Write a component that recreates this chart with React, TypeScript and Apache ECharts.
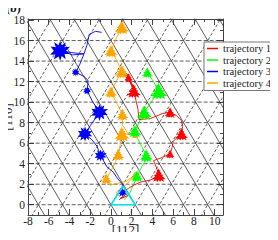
import React, { useEffect, useRef } from "react";
import * as echarts from "echarts";

const xMajor = [-8, -6, -4, -2, 0, 2, 4, 6, 8, 10];
const xMinor = [-7, -5, -3, -1, 1, 3, 5, 7, 9];
const yMajor = [0, 2, 4, 6, 8, 10, 12, 14, 16, 18];
const yMinor = [-1, 1, 3, 5, 7, 9, 11, 13, 15, 17];

const seriesNames = ["trajectory 1", "trajectory 2", "trajectory 3", "trajectory 4"];
const seriesColors = ["#ff0000", "#00ff00", "#0000ff", "#ffa500"];

const latticeRows = [0, 2, 4, 6, 8, 10, 12, 14, 16];
const latticeSpacing = 2.333;
const latticeIndex = [-9, -8, -7, -6, -5, -4, -3, -2, -1, 0, 1, 2, 3, 4, 5, 6, 7, 8, 9, 10];
const cyanTriangle = [[0, 0], [2.333, 0], [1.167, 1.8], [0, 0]];

// trajectory 1 (red)
const t1Path = [
  [1.0, 0.6], [1.6, 0.9], [1.2, 1.3], [1.7, 1.6], [2.2, 1.9], [2.8, 2.2], [3.8, 2.4], [4.6, 2.9],
  [4.4, 3.6], [4.1, 4.3], [4.9, 4.6], [5.7, 4.95], [5.9, 5.6], [6.0, 6.2], [6.8, 6.9], [6.9, 7.6],
  [6.8, 8.2], [6.3, 8.7], [5.7, 9.0], [5.0, 8.9], [3.8, 8.4], [2.7, 8.3], [2.6, 9.3], [2.4, 10.2],
  [2.2, 11.1], [1.9, 11.8], [1.6, 12.5], [1.3, 12.9], [1.9, 12.0], [2.3, 11.2], [1.5, 12.8], [2.1, 11.4],
];
const t1Blobs = [[4.6, 2.9, 14], [5.7, 4.95, 9], [6.8, 6.9, 13], [5.7, 9.0, 11], [2.2, 11.1, 14], [1.7, 12.4, 9]];

// trajectory 2 (green)
const t2Path = [
  [1.3, 0.5], [1.8, 1.1], [2.1, 1.8], [2.5, 2.7], [2.8, 3.4], [3.2, 4.1], [3.4, 4.8], [3.0, 5.6],
  [2.6, 6.4], [2.3, 7.2], [2.7, 8.0], [3.2, 9.0], [3.8, 9.9], [4.6, 11.1], [4.1, 12.0], [3.5, 12.9],
];
const t2Blobs = [[2.5, 2.8, 12], [3.4, 4.8, 13], [2.3, 7.2, 13], [3.2, 9.0, 15], [4.6, 11.1, 17], [3.5, 12.9, 11]];

// trajectory 3 (blue)
const t3Path = [
  [0.8, 0.5], [1.4, 1.0], [0.9, 1.4], [1.2, 1.9], [0.6, 2.6], [0.2, 3.2], [-0.4, 3.7], [-1.0, 4.8],
  [-1.35, 5.7], [-1.8, 6.3], [-2.5, 6.9], [-2.0, 7.7], [-1.1, 9.0], [-1.8, 10.1], [-2.3, 11.1],
  [-2.2, 12.1], [-2.6, 12.5], [-3.4, 12.9], [-3.0, 13.7], [-2.6, 14.7], [-3.7, 14.6], [-4.9, 15.0],
  [-3.6, 14.8], [-2.6, 14.7], [-2.3, 15.6], [-2.1, 16.6], [-1.5, 16.9], [-0.9, 16.8],
];
const t3Blobs = [[-1.0, 4.8, 12], [-2.5, 6.9, 15], [-1.1, 9.0, 17], [-2.3, 11.1, 8], [-3.4, 12.9, 8], [-4.9, 15.0, 20], [1.1, 1.2, 9]];

// trajectory 4 (orange)
const t4Path = [
  [1.6, 0.8], [0.9, 0.7], [0.5, 1.2], [1.5, 2.0], [2.3, 2.9], [1.5, 2.3], [-0.1, 1.9], [-0.45, 2.55],
  [0.0, 3.3], [0.4, 4.1], [0.7, 4.9], [0.9, 5.9], [1.05, 6.9], [1.7, 6.9], [2.3, 6.8], [1.6, 7.0],
  [1.1, 7.8], [1.1, 8.8], [0.6, 9.8], [0.0, 11.0], [0.5, 12.0], [1.05, 13.0], [0.6, 14.0], [0.0, 15.0],
  [0.5, 16.2], [1.05, 17.3],
];
const t4Blobs = [[-0.45, 2.55, 11], [0.7, 4.9, 12], [1.05, 6.9, 15], [1.1, 8.8, 12], [0.0, 11.0, 12], [1.05, 13.0, 14], [0.0, 15.0, 13], [1.05, 17.3, 14], [2.3, 6.8, 7], [2.3, 2.9, 7]];

const triBlob =
  "path://M50,0 L55,18 L62,12 L60,30 L72,32 L66,44 L84,50 L74,58 L100,80 L80,80 L90,100 L68,88 L60,98 L50,86 L40,100 L32,88 L10,98 L20,80 L0,82 L26,60 L14,50 L34,44 L28,32 L40,30 L38,12 L45,18 Z";
const roundBlob =
  "path://M50,0 L58,22 L78,8 L72,32 L100,30 L80,48 L98,66 L72,66 L78,92 L58,76 L50,100 L42,78 L18,94 L26,68 L0,70 L18,50 L2,28 L28,32 L20,6 L42,22 Z";

const serif = "Liberation Serif";

export default function App() {
  const ref = useRef<HTMLDivElement>(null);
  useEffect(() => {
    const chart = echarts.init(ref.current!, undefined, { renderer: "svg" });
    const frameColor = "#444";
    const tickStyle = { color: frameColor, width: 1 };
    const lblStyle = { fontFamily: serif, fontSize: 11.5, color: "#222", lineHeight: 11 };

    const latticeSeries: any[] = [];
    latticeRows.forEach((r) => {
      latticeSeries.push({
        type: "line", silent: true, symbol: "none", z: 1,
        data: [[-9, r], [12, r]],
        lineStyle: { color: "#333", width: 0.8, type: [4, 2] },
      });
    });
    latticeIndex.forEach((k) => {
      const x0 = k * latticeSpacing;
      latticeSeries.push({
        type: "line", silent: true, symbol: "none", z: 1,
        data: [[x0 - 2 * latticeSpacing / 4, -2], [x0 + 20 * latticeSpacing / 4, 20]],
        lineStyle: { color: "#333", width: 0.8, type: [3, 2] },
      });
      latticeSeries.push({
        type: "line", silent: true, symbol: "none", z: 1,
        data: [[x0 + 2 * latticeSpacing / 4, -2], [x0 - 20 * latticeSpacing / 4, 20]],
        lineStyle: { color: "#333", width: 0.8 },
      });
    });

    const traj = (i: number, path: number[][], blobs: number[][], shape: string) => [
      {
        name: seriesNames[i], type: "line", symbol: "none", z: 3, data: path,
        lineStyle: { color: seriesColors[i], width: 0.9 }, itemStyle: { color: seriesColors[i] },
      },
      {
        name: seriesNames[i], type: "scatter", z: 3, data: blobs, symbol: shape,
        symbolSize: (v: number[]) => v[2],
        itemStyle: { color: seriesColors[i], opacity: 1 },
      },
    ];

    const mkX = (pos: string, vals: number[], len: number, labels: boolean, line: boolean, name?: string) => ({
      type: "value", min: -8, max: 10.8, position: pos,
      axisLine: { show: line, onZero: false, lineStyle: { color: frameColor, width: 1 } },
      axisTick: { show: true, inside: true, length: len, customValues: vals, lineStyle: tickStyle },
      axisLabel: labels ? { show: true, customValues: vals, margin: 1, ...lblStyle, lineHeight: 10 } : { show: false },
      splitLine: { show: false },
      name: name, nameLocation: "middle", nameGap: 9, nameMoveOverlap: false,
      nameTextStyle: { ...lblStyle, fontSize: 13, lineHeight: 11 },
    });
    const mkY = (pos: string, vals: number[], len: number, labels: boolean, line: boolean, name?: string) => ({
      type: "value", min: -1, max: 18.1, position: pos,
      axisLine: { show: line, onZero: false, lineStyle: { color: frameColor, width: 1 } },
      axisTick: { show: true, inside: true, length: len, customValues: vals, lineStyle: tickStyle },
      axisLabel: labels ? { show: true, customValues: vals, margin: 3, ...lblStyle } : { show: false },
      splitLine: { show: false },
      name: name, nameLocation: "middle", nameGap: 15, nameMoveOverlap: false,
      nameTextStyle: { ...lblStyle, fontSize: 13, lineHeight: 12 },
    });

    chart.setOption({
      animation: false,
      grid: { left: 28, right: 55, top: 19, bottom: 25, containLabel: false, outerBoundsMode: "none" },
      title: {
        text: "(b)", left: 6, top: 2, padding: 0,
        textStyle: { fontFamily: serif, fontSize: 12, fontWeight: "bold", color: "#111", lineHeight: 12 },
      },
      xAxis: [
        mkX("bottom", xMajor, 6, true, true, "[112\u0305]"),
        mkX("bottom", xMinor, 3, false, false),
        mkX("top", xMajor, 6, false, true),
        mkX("top", xMinor, 3, false, false),
      ],
      yAxis: [
        mkY("left", yMajor, 6, true, true, "[11\u03050]"),
        mkY("left", yMinor, 3, false, false),
        mkY("right", yMajor, 6, false, true),
        mkY("right", yMinor, 3, false, false),
      ],
      legend: {
        orient: "vertical", left: 204, top: 42,
        backgroundColor: "#fff", borderColor: "#777", borderWidth: 1, borderRadius: 0,
        padding: [1, 3, 2, 3], itemGap: 0.5, itemWidth: 11, itemHeight: 1.5,
        textStyle: {
          fontFamily: serif, fontSize: 10.5, color: "#222",
          rich: { n: { fontFamily: serif, fontSize: 10.5, color: "#222", lineHeight: 12 } },
        },
        formatter: (n: string) => "{n|" + n + "}",
        data: seriesNames.map((n) => ({ name: n, icon: "rect" })),
      },
      series: [
        ...latticeSeries,
        ...traj(3, t4Path, t4Blobs, triBlob),
        ...traj(2, t3Path, t3Blobs, roundBlob),
        ...traj(1, t2Path, t2Blobs, triBlob),
        ...traj(0, t1Path, t1Blobs, triBlob),
        {
          type: "line", silent: true, symbol: "none", z: 4, data: cyanTriangle,
          lineStyle: { color: "#00e5ff", width: 1.6 },
        },
      ],
    });
    return () => chart.dispose();
  }, []);
  return <div ref={ref} style={{ width: 278, height: 240, margin: -8 }} />;
}
